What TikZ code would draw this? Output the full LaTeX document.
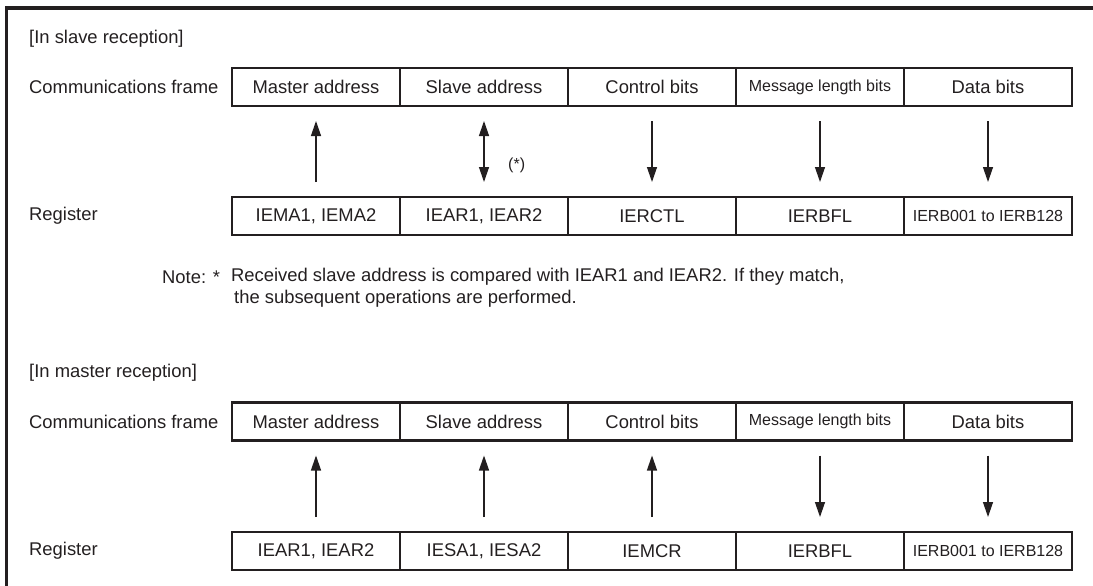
\documentclass[tikz,border=0pt]{standalone}
\usepackage{fontspec}
\setmainfont{Liberation Sans}
\usetikzlibrary{arrows.meta}
\definecolor{ink}{RGB}{35,31,32}
\tikzset{
  cell/.style={draw=ink, line width=2.8pt, minimum width=168pt, minimum height=38pt,
    inner sep=0pt, outer sep=0pt, font=\fontsize{18.4}{20}\selectfont, text=ink},
  smallcell/.style={cell, font=\fontsize{16}{18}\selectfont},
  lbl/.style={anchor=west, inner sep=0pt, font=\fontsize{18.4}{20}\selectfont, text=ink},
  flow/.style={draw=ink, line width=1.3pt, -{Triangle[width=10pt,length=15pt]}, shorten >=15pt, shorten <=15pt},
  bflow/.style={draw=ink, line width=1.3pt, {Triangle[width=10pt,length=15pt]}-{Triangle[width=10pt,length=15pt]}, shorten >=15pt, shorten <=15pt},
  frameline/.style={draw=ink, line width=3.2pt}
}
\begin{document}
\begin{tikzpicture}[x=1pt,y=-1pt]
\useasboundingbox (0,0) rectangle (1093,586);
% outer frame (top and left only)
\coordinate (fa) at (1093,8);
\coordinate (fb) at (6.5,8);
\coordinate (fc) at (6.5,586);
\draw[frameline] (fa) -- (fb) -- (fc);

% ---------- slave reception ----------
\node[lbl] (t1) at (29,39) {[In slave reception]};
\node[lbl] (cf1) at (29,87) {Communications frame};
\node[lbl] (rg1) at (29,216) {Register};

\node[cell] (s1) at (316,87) {Master address};
\node[cell] (s2) at (484,87) {Slave address};
\node[cell] (s3) at (652,87) {Control bits};
\node[smallcell] (s4) at (820,87) {Message length bits};
\node[cell] (s5) at (988,87) {Data bits};

\node[cell] (r1) at (316,216) {IEMA1, IEMA2};
\node[cell] (r2) at (484,216) {IEAR1, IEAR2};
\node[cell] (r3) at (652,216) {IERCTL};
\node[cell] (r4) at (820,216) {IERBFL};
\node[smallcell] (r5) at (988,216) {IERB001 to IERB128};

\draw[flow] (r1) -- (s1);
\draw[bflow] (s2) -- (r2);
\draw[flow] (s3) -- (r3);
\draw[flow] (s4) -- (r4);
\draw[flow] (s5) -- (r5);
\node[lbl, font=\fontsize{16}{18}\selectfont] (star) at (508,165) {(*)};

\node[lbl] (note) at (162,277) {Note: *};
\node[lbl] (n1) at (231,277) {Received slave address is compared with IEAR1 and IEAR2. If they match,};
\node[lbl] (n2) at (234,299) {the subsequent operations are performed.};

% ---------- master reception ----------
\node[lbl] (t2) at (29,373) {[In master reception]};
\node[lbl] (cf2) at (29,421.5) {Communications frame};
\node[lbl] (rg2) at (29,551) {Register};

\node[cell] (m1) at (316,421.5) {Master address};
\node[cell] (m2) at (484,421.5) {Slave address};
\node[cell] (m3) at (652,421.5) {Control bits};
\node[smallcell] (m4) at (820,421.5) {Message length bits};
\node[cell] (m5) at (988,421.5) {Data bits};

\node[cell] (q1) at (316,551) {IEAR1, IEAR2};
\node[cell] (q2) at (484,551) {IESA1, IESA2};
\node[cell] (q3) at (652,551) {IEMCR};
\node[cell] (q4) at (820,551) {IERBFL};
\node[smallcell] (q5) at (988,551) {IERB001 to IERB128};

\draw[flow] (q1) -- (m1);
\draw[flow] (q2) -- (m2);
\draw[flow] (q3) -- (m3);
\draw[flow] (m4) -- (q4);
\draw[flow] (m5) -- (q5);
\end{tikzpicture}
\end{document}
